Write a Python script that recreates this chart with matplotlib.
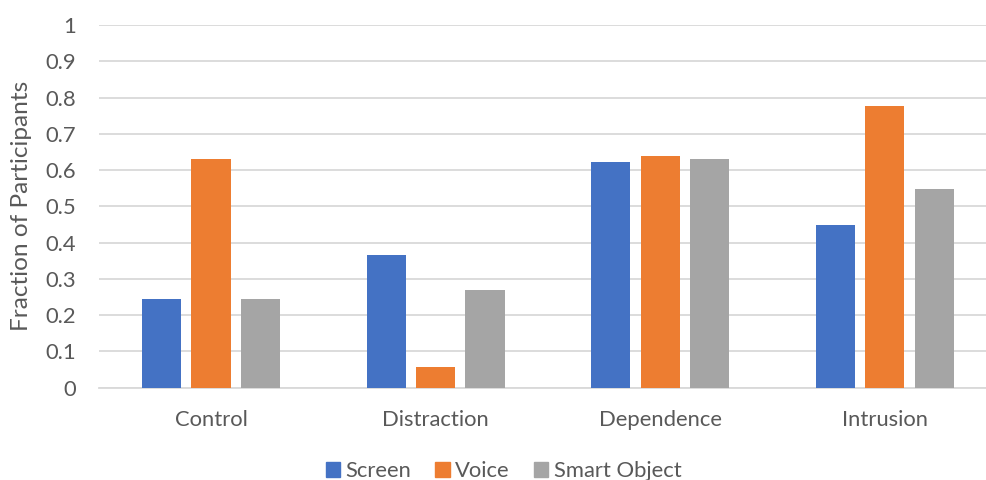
import matplotlib.pyplot as plt
import numpy as np
from matplotlib.patches import Patch

categories = ['Control', 'Distraction', 'Dependence', 'Intrusion']
series = ['Screen', 'Voice', 'Smart Object']
screen = [0.245, 0.367, 0.621, 0.449]
voice = [0.63, 0.057, 0.639, 0.778]
smart_object = [0.245, 0.27, 0.63, 0.549]
yticks = [0, 0.1, 0.2, 0.3, 0.4, 0.5, 0.6, 0.7, 0.8, 0.9, 1]
ytick_labels = ['0', '0.1', '0.2', '0.3', '0.4', '0.5', '0.6', '0.7', '0.8', '0.9', '1']

colors = ['#4472C4', '#ED7D31', '#A5A5A5']
text_color = '#595959'
plt.rcParams['font.family'] = ['Lato', 'DejaVu Sans']
fs = 15.8

fig = plt.figure(figsize=(9.87, 4.8), dpi=100)
ax = fig.add_axes([98.7 / 987, 1 - 387.7 / 480, (987 - 98.7) / 987, (387.7 - 25) / 480])

x = np.arange(len(categories))
step = 0.22
width = 0.174
for i, (vals, c) in enumerate(zip([screen, voice, smart_object], colors)):
    ax.bar(x + (i - 1) * step, vals, width, color=c, zorder=3)

ax.set_xlim(-0.5, -0.5 + (987 - 98.7) / 224.6)
ax.set_ylim(0, 1)
ax.set_yticks(yticks)
ax.set_yticklabels(ytick_labels)
ax.set_xticks(x)
ax.set_xticklabels(categories)
ax.tick_params(axis='y', length=0, pad=16, labelsize=fs, labelcolor=text_color)
ax.tick_params(axis='x', length=0, pad=16, labelsize=fs, labelcolor=text_color)
ax.grid(axis='y', color='#D9D9D9', linewidth=1.3, zorder=0)
for s in ['top', 'right', 'left']:
    ax.spines[s].set_visible(False)
ax.spines['bottom'].set_color('#D9D9D9')
ax.spines['bottom'].set_linewidth(1.3)

fig.text(22 / 987, 1 - 206 / 480, 'Fraction of Participants', rotation=90,
         ha='center', va='center', fontsize=17.6, color=text_color)

handles = [Patch(color=c) for c in colors]
fig.legend(handles, series, loc='center', bbox_to_anchor=(503.5 / 987, 1 - 471 / 480),
           ncol=3, frameon=False, fontsize=fs, handlelength=0.65, handleheight=0.65,
           handletextpad=0.25, columnspacing=1.1, labelcolor=text_color)

fig.savefig('out.png', dpi=100)
